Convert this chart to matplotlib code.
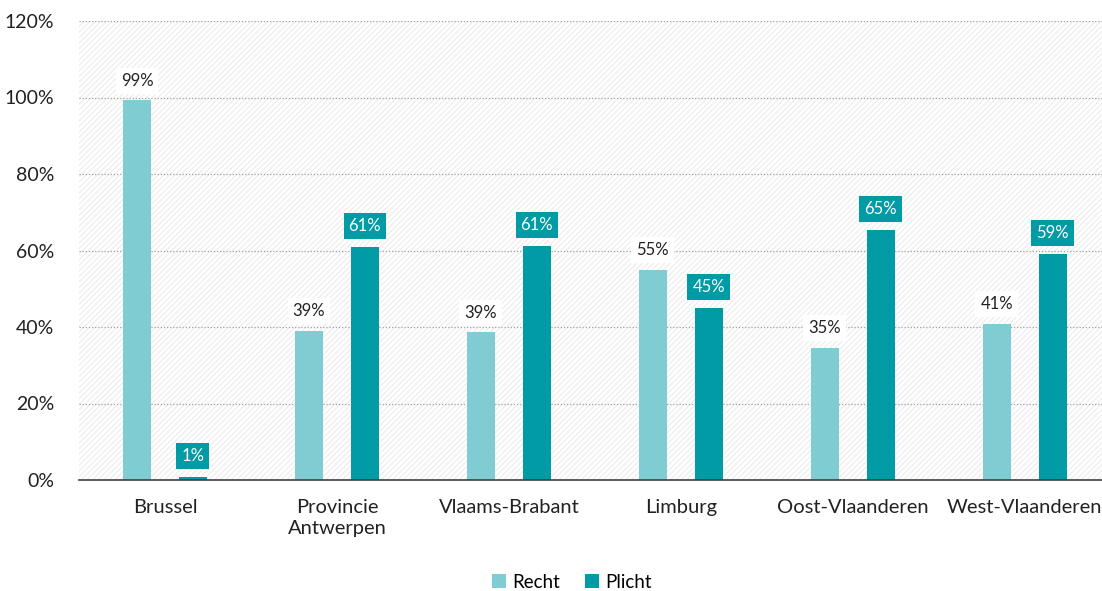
import matplotlib
matplotlib.use("Agg")
import matplotlib.pyplot as plt
import numpy as np
from matplotlib.patches import Rectangle

categories = ["Brussel", "Provincie\nAntwerpen", "Vlaams-Brabant", "Limburg", "Oost-Vlaanderen", "West-Vlaanderen"]
recht = [99.3, 39.0, 38.7, 55.0, 34.6, 40.8]
plicht = [0.7, 61.0, 61.3, 45.0, 65.4, 59.2]
yticks = [0, 20, 40, 60, 80, 100, 120]

c_recht = "#7FCCD2"
c_plicht = "#009BA5"

plt.rcParams['font.family'] = ['Lato', 'DejaVu Sans']
plt.rcParams['hatch.linewidth'] = 0.8

fig = plt.figure(figsize=(11.02, 5.91), dpi=100)
ax = fig.add_axes([79/1102, 1-480/591, 1-79/1102, (480-21)/591])

x = np.arange(len(categories))
off = 0.163
w = 0.163

ax.add_patch(Rectangle((0, 0), 1, 1, transform=ax.transAxes, facecolor="white",
                       edgecolor="#ECECEC", hatch="//////", linewidth=0, zorder=0))

for yv in yticks[1:]:
    ax.axhline(yv, color="#A0A0A0", linestyle=(0, (1, 1.5)), linewidth=0.9, zorder=1)

ax.bar(x - off, recht, width=w, color=c_recht, zorder=2, label="Recht")
ax.bar(x + off, plicht, width=w, color=c_plicht, zorder=2, label="Plicht")

for xi, v in zip(x, recht):
    ax.annotate(f"{round(v)}%", (xi - off, v), xytext=(0, 14), textcoords="offset points",
                ha="center", va="center", fontsize=12, color="#222222", zorder=4,
                bbox=dict(boxstyle="square,pad=0.3", facecolor="white", edgecolor="none"))
for xi, v in zip(x, plicht):
    ax.annotate(f"{round(v)}%", (xi + off, v), xytext=(0, 15), textcoords="offset points",
                ha="center", va="center", fontsize=12, color="white", zorder=4,
                bbox=dict(boxstyle="square,pad=0.3", facecolor=c_plicht, edgecolor="none"))

ax.set_xlim(-0.5, 5.45)
ax.set_ylim(0, 120)
ax.set_yticks(yticks)
ax.set_yticklabels([f"{t}%" for t in yticks], fontsize=14, color="#222222")
ax.set_xticks(x)
ax.set_xticklabels(categories, fontsize=14.5, color="#222222", linespacing=1.25)
ax.tick_params(axis="x", length=0, pad=14)
ax.tick_params(axis="y", length=0, pad=18)
for s in ["top", "right", "left"]:
    ax.spines[s].set_visible(False)
ax.spines["bottom"].set_color("#404040")
ax.spines["bottom"].set_linewidth(1.2)
ax.spines["bottom"].set_zorder(3)

fig.legend(loc="center", bbox_to_anchor=(572/1102, 1-582/591), ncol=2, frameon=False,
           fontsize=13.5, handlelength=0.75, handleheight=0.75, handletextpad=0.35, columnspacing=1.3)

fig.savefig("out.png", dpi=100)
